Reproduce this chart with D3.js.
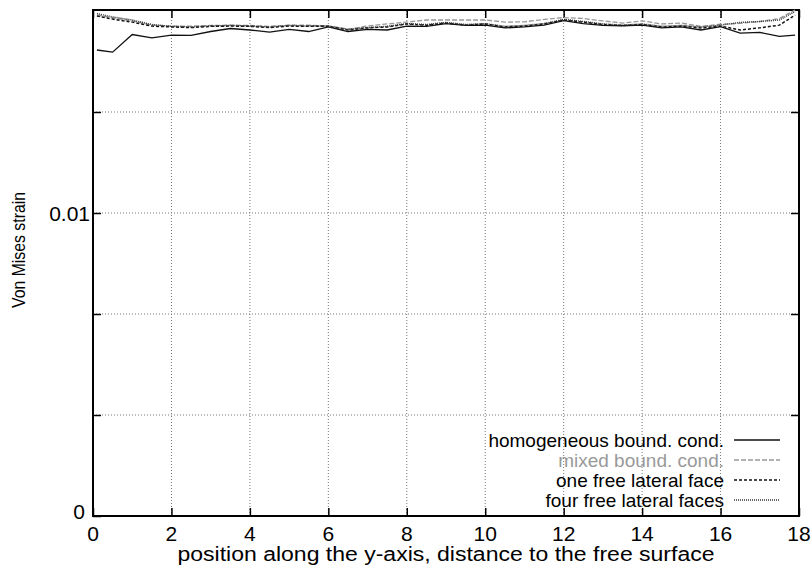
<!DOCTYPE html>
<html>
<head>
<meta charset="utf-8">
<script src="https://cdn.jsdelivr.net/npm/d3@7"></script>
<style>
  body { margin: 0; background: #fff; }
  svg text { font-family: "Liberation Sans", Arial, Helvetica, sans-serif; }
</style>
</head>
<body>
<div id="chart"></div>
<script>
// positions along the y-axis
const xs = [0.1, 0.5, 1, 1.5, 2, 2.5, 3, 3.5, 4, 4.5, 5, 5.5, 6, 6.5, 7, 7.5, 8, 8.5, 9, 9.5,
  10, 10.5, 11, 11.5, 12, 12.5, 13, 13.5, 14, 14.5, 15, 15.5, 16, 16.5, 17, 17.5, 17.9];

const homogeneous = [0.01538, 0.01531, 0.01589, 0.01578, 0.01587, 0.01586, 0.01599, 0.01609, 0.01604, 0.01597,
  0.01606, 0.01599, 0.01614, 0.01599, 0.01606, 0.01604, 0.01617, 0.01616, 0.01625, 0.01619,
  0.01620, 0.01611, 0.01614, 0.01620, 0.01635, 0.01625, 0.01619, 0.01618, 0.01620, 0.01611,
  0.01614, 0.01604, 0.01615, 0.01594, 0.01596, 0.01583, 0.01587];

const mixed = [0.01653, 0.01644, 0.01634, 0.01620, 0.01617, 0.01617, 0.01619, 0.01620, 0.01619, 0.01616,
  0.01620, 0.01620, 0.01617, 0.01607, 0.01617, 0.01624, 0.01630, 0.01637, 0.01637, 0.01637,
  0.01637, 0.01630, 0.01631, 0.01639, 0.01645, 0.01642, 0.01634, 0.01627, 0.01634, 0.01624,
  0.01627, 0.01616, 0.01623, 0.01626, 0.01632, 0.01642, 0.01670];

const oneFree = [0.01650, 0.01640, 0.01630, 0.01617, 0.01614, 0.01612, 0.01616, 0.01617, 0.01616, 0.01612,
  0.01617, 0.01616, 0.01616, 0.01604, 0.01611, 0.01614, 0.01624, 0.01620, 0.01627, 0.01620,
  0.01624, 0.01614, 0.01617, 0.01624, 0.01637, 0.01630, 0.01622, 0.01619, 0.01622, 0.01614,
  0.01617, 0.01611, 0.01617, 0.01604, 0.01611, 0.01620, 0.01653];

const fourFree = [0.01658, 0.01647, 0.01637, 0.01622, 0.01616, 0.01614, 0.01617, 0.01619, 0.01617, 0.01614,
  0.01619, 0.01617, 0.01617, 0.01606, 0.01612, 0.01616, 0.01625, 0.01622, 0.01629, 0.01622,
  0.01625, 0.01616, 0.01619, 0.01625, 0.01639, 0.01632, 0.01624, 0.01620, 0.01624, 0.01616,
  0.01619, 0.01614, 0.01620, 0.01629, 0.01632, 0.01637, 0.01665];

const xTicks = [0, 2, 4, 6, 8, 10, 12, 14, 16, 18];
const yGrid = [0.01 / 3, 0.02 / 3, 0.01, 0.04 / 3];
const yLabels = [0, 0.01];

const seriesNames = ['homogeneous bound. cond.', 'mixed bound. cond.', 'one free lateral face', 'four free lateral faces'];

const width = 811, height = 571;
const margin = { left: 93, right: 12, top: 10, bottom: 55 };

const svg = d3.select('#chart').append('svg')
    .attr('width', width)
    .attr('height', height);

const x = d3.scaleLinear().domain([0, 18]).range([margin.left, width - margin.right]);
const y = d3.scaleLinear().domain([0, 0.0167]).range([height - margin.bottom, margin.top]);

// grid
svg.append('g').selectAll('line.vg')
    .data(xTicks.slice(1, -1))
    .enter().append('line')
    .attr('x1', d => x(d)).attr('x2', d => x(d))
    .attr('y1', y(0)).attr('y2', y(0.0167))
    .attr('stroke', '#777').attr('stroke-width', 1).attr('stroke-dasharray', '1,2');

svg.append('g').selectAll('line.hg')
    .data(yGrid)
    .enter().append('line')
    .attr('x1', x(0)).attr('x2', x(18))
    .attr('y1', d => y(d)).attr('y2', d => y(d))
    .attr('stroke', '#777').attr('stroke-width', 1).attr('stroke-dasharray', '1,2');

// axes: ticks pointing inward on all four sides
const tickLen = 8;
svg.append('g')
    .attr('transform', `translate(0,${y(0)})`)
    .call(d3.axisBottom(x).tickValues(xTicks).tickSize(-tickLen).tickFormat(''))
    .call(g => g.select('.domain').remove())
    .call(g => g.selectAll('line').attr('stroke-width', 1.5));

svg.append('g').selectAll('text')
    .data(xTicks)
    .enter().append('text')
    .attr('x', d => x(d))
    .attr('y', 541)
    .attr('text-anchor', 'middle')
    .attr('font-size', 21)
    .text(d => d);

svg.append('g')
    .attr('transform', `translate(0,${y(0.0167)})`)
    .call(d3.axisTop(x).tickValues(xTicks).tickSize(-tickLen).tickFormat(''))
    .call(g => g.select('.domain').remove())
    .call(g => g.selectAll('line').attr('stroke-width', 1.5));

svg.append('g')
    .attr('transform', `translate(${x(0)},0)`)
    .call(d3.axisLeft(y).tickValues(yGrid.concat([0])).tickSize(-tickLen).tickFormat(''))
    .call(g => g.select('.domain').remove())
    .call(g => g.selectAll('line').attr('stroke-width', 1.5));

svg.append('g')
    .attr('transform', `translate(${x(18)},0)`)
    .call(d3.axisRight(y).tickValues(yGrid).tickSize(-tickLen).tickFormat(''))
    .call(g => g.select('.domain').remove())
    .call(g => g.selectAll('line').attr('stroke-width', 1.5));

svg.append('g').selectAll('text')
    .data(yLabels)
    .enter().append('text')
    .attr('x', d => d === 0 ? x(0) - 8 : x(0) - 3)
    .attr('y', d => d === 0 ? y(d) + 3 : y(d) + 8)
    .attr('text-anchor', 'end')
    .attr('font-size', 21)
    .text(d => d);

// frame
svg.append('rect')
    .attr('x', x(0)).attr('y', y(0.0167))
    .attr('width', x(18) - x(0)).attr('height', y(0) - y(0.0167))
    .attr('fill', 'none').attr('stroke', '#000').attr('stroke-width', 2);

// lines
const styles = [
    { data: homogeneous, color: '#111', dash: null, w: 1.3 },
    { data: mixed, color: '#999', dash: '5,2', w: 1.3 },
    { data: oneFree, color: '#111', dash: '3,2', w: 1.5 },
    { data: fourFree, color: '#333', dash: '1,1', w: 1.5 }
];

const line = d3.line().x((d, i) => x(xs[i])).y(d => y(d));

svg.append('g').selectAll('path')
    .data(styles)
    .enter().append('path')
    .attr('d', d => line(d.data))
    .attr('fill', 'none')
    .attr('stroke', d => d.color)
    .attr('stroke-width', d => d.w)
    .attr('stroke-dasharray', d => d.dash);

// legend
const legend = svg.append('g');
const rows = legend.selectAll('g')
    .data(styles)
    .enter().append('g')
    .attr('transform', (d, i) => `translate(0,${440 + i * 20})`);

rows.append('text')
    .attr('x', 724)
    .attr('y', 7)
    .attr('text-anchor', 'end')
    .attr('font-size', 19)
    .attr('fill', (d, i) => i === 1 ? '#999' : '#000')
    .text((d, i) => seriesNames[i]);

rows.append('line')
    .attr('x1', 734).attr('x2', 780)
    .attr('y1', 0).attr('y2', 0)
    .attr('stroke', d => d.color)
    .attr('stroke-width', d => d.w)
    .attr('stroke-dasharray', d => d.dash);

// axis titles
svg.append('text')
    .attr('x', (x(0) + x(18)) / 2)
    .attr('y', 561)
    .attr('text-anchor', 'middle')
    .attr('font-size', 20)
    .attr('textLength', 537)
    .attr('lengthAdjust', 'spacingAndGlyphs')
    .text('position along the y-axis, distance to the free surface');

svg.append('text')
    .attr('transform', `translate(25,250) rotate(-90)`)
    .attr('text-anchor', 'middle')
    .attr('font-size', 19)
    .attr('textLength', 116)
    .attr('lengthAdjust', 'spacingAndGlyphs')
    .text('Von Mises strain');
</script>
</body>
</html>
